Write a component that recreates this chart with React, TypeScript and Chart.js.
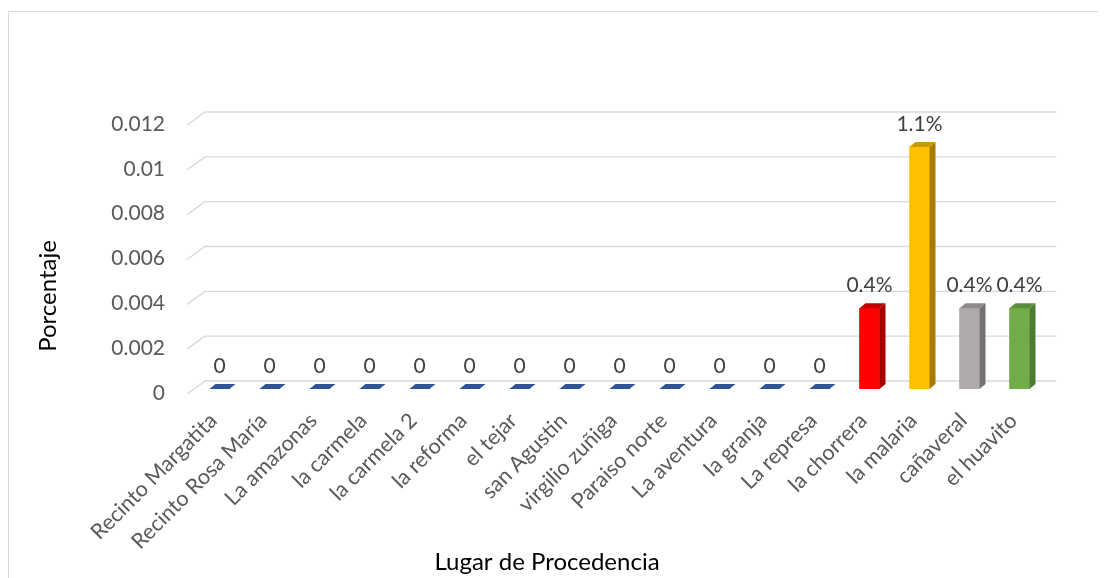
import React, { useEffect, useRef } from "react";
import { Chart, registerables } from "chart.js";

Chart.register(...registerables);

const categories = [
  "Recinto Margatita",
  "Recinto Rosa María",
  "La amazonas",
  "la carmela",
  "la carmela 2",
  "la reforma",
  "el tejar",
  "san Agustin",
  "virgilio zuñiga",
  "Paraiso norte",
  "La aventura",
  "la granja",
  "La represa",
  "la chorrera",
  "la malaria",
  "cañaveral",
  "el huavito",
];

const values = [0, 0, 0, 0, 0, 0, 0, 0, 0, 0, 0, 0, 0, 0.0036, 0.0108, 0.0036, 0.0036];

const frontColors = [
  "#4472C4", "#4472C4", "#4472C4", "#4472C4", "#4472C4", "#4472C4", "#4472C4",
  "#4472C4", "#4472C4", "#4472C4", "#4472C4", "#4472C4", "#4472C4",
  "#FF0000", "#FFC000", "#AEAAAA", "#70AD47",
];
const sideColors = [
  "#2F5597", "#2F5597", "#2F5597", "#2F5597", "#2F5597", "#2F5597", "#2F5597",
  "#2F5597", "#2F5597", "#2F5597", "#2F5597", "#2F5597", "#2F5597",
  "#A50000", "#A67C00", "#767171", "#4E7A31",
];
const topColors = [
  "#2F5597", "#2F5597", "#2F5597", "#2F5597", "#2F5597", "#2F5597", "#2F5597",
  "#2F5597", "#2F5597", "#2F5597", "#2F5597", "#2F5597", "#2F5597",
  "#C00000", "#C99A06", "#8E8A8A", "#5B8E3A",
];

const yTickValues = [0, 0.002, 0.004, 0.006, 0.008, 0.01, 0.012];
const yTickLabels = ["0", "0.002", "0.004", "0.006", "0.008", "0.01", "0.012"];

const yTitle = "Porcentaje";
const xTitle = "Lugar de Procedencia";

const FONT = 'Lato, "Noto Sans", sans-serif';

function formatLabel(v: number): string {
  if (v === 0) return "0";
  return (v * 100).toFixed(1) + "%";
}

const DX = 6;
const DY = 5;

const threeDPlugin = {
  id: "threeD",
  beforeDatasetsDraw(chart: any) {
    const { ctx, chartArea, scales } = chart;
    const y = scales.y;
    ctx.save();
    ctx.strokeStyle = "#D9D9D9";
    ctx.lineWidth = 1.4;
    for (const v of yTickValues) {
      const py = y.getPixelForValue(v);
      ctx.beginPath();
      ctx.moveTo(chartArea.left - 7.5, py + 5);
      ctx.lineTo(chartArea.left + 10.5, py - 8);
      ctx.lineTo(chartArea.right + 12, py - 8);
      ctx.stroke();
    }
    ctx.restore();
  },
  afterDatasetsDraw(chart: any) {
    const { ctx } = chart;
    const meta = chart.getDatasetMeta(0);
    ctx.save();
    meta.data.forEach((el: any, i: number) => {
      const p = el.getProps(["x", "y", "base", "width"], true);
      const left = p.x - p.width / 2;
      const right = p.x + p.width / 2;
      const top = Math.min(p.y, p.base);
      const base = Math.max(p.y, p.base);
      if (base - top > 0.5) {
        ctx.fillStyle = sideColors[i];
        ctx.beginPath();
        ctx.moveTo(right, top);
        ctx.lineTo(right + DX, top - DY);
        ctx.lineTo(right + DX, base - DY);
        ctx.lineTo(right, base);
        ctx.closePath();
        ctx.fill();
      }
      ctx.fillStyle = topColors[i];
      ctx.beginPath();
      ctx.moveTo(left, top);
      ctx.lineTo(left + DX, top - DY);
      ctx.lineTo(right + DX, top - DY);
      ctx.lineTo(right, top);
      ctx.closePath();
      ctx.fill();

      ctx.fillStyle = "#404040";
      ctx.font = "21px " + FONT;
      ctx.textAlign = "center";
      ctx.textBaseline = "middle";
      ctx.fillText(formatLabel(values[i]), p.x, top - 23);
    });

    ctx.fillStyle = "#000000";
    ctx.font = "24px " + FONT;
    ctx.textAlign = "center";
    ctx.textBaseline = "middle";
    ctx.save();
    ctx.translate(39, 284);
    ctx.rotate(-Math.PI / 2);
    ctx.fillText(yTitle, 0, 0);
    ctx.restore();

    ctx.font = "24px " + FONT;
    ctx.textBaseline = "alphabetic";
    ctx.fillText(xTitle, 538, 558);
    ctx.restore();
  },
};

export default function App() {
  const ref = useRef<HTMLCanvasElement | null>(null);

  useEffect(() => {
    if (!ref.current) return;
    const chart = new Chart(ref.current, {
      type: "bar",
      data: {
        labels: categories,
        datasets: [
          {
            data: values,
            backgroundColor: frontColors,
            borderWidth: 0,
            barThickness: 20,
          },
        ],
      },
      options: {
        responsive: false,
        animation: false,
        layout: { padding: { left: 0, right: 60.5, top: 108, bottom: 0 } },
        plugins: {
          legend: { display: false },
          tooltip: { enabled: false },
        },
        scales: {
          x: {
            grid: { display: false },
            border: { display: false },
            ticks: {
              color: "#595959",
              font: { family: FONT, size: 21.5 },
              minRotation: 45,
              maxRotation: 45,
              autoSkip: false,
              padding: 11,
              labelOffset: -6,
            },
            afterFit(scale: any) {
              scale.height = 193;
            },
          },
          y: {
            min: 0,
            max: 0.012,
            grid: { display: false },
            border: { display: false },
            afterBuildTicks(scale: any) {
              scale.ticks = yTickValues.map((v) => ({ value: v }));
            },
            ticks: {
              color: "#595959",
              font: { family: FONT, size: 21 },
              padding: 21.5,
              labelOffset: 4,
              callback: (_v: any, i: number) => yTickLabels[i],
            },
            afterFit(scale: any) {
              scale.width = 185.5;
            },
          },
        },
      },
      plugins: [threeDPlugin],
    });
    return () => chart.destroy();
  }, []);

  return (
    <div style={{ width: 1098, height: 570, overflow: "hidden" }}>
      <div
        style={{
          marginTop: 3,
          border: "1px solid #D9D9D9",
          width: 1120,
          height: 600,
          boxSizing: "border-box",
          background: "#ffffff",
        }}
      >
        <canvas ref={ref} width={1096} height={570} style={{ display: "block" }} />
      </div>
    </div>
  );
}
